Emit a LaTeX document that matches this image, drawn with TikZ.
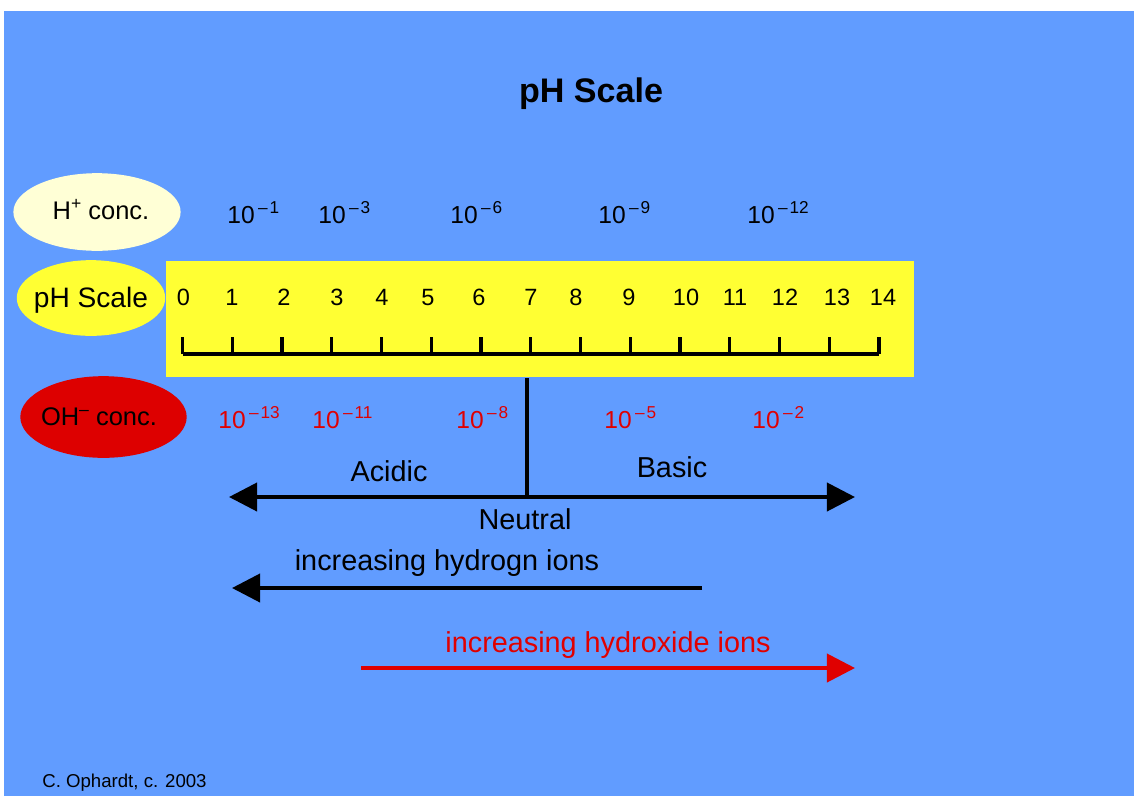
\documentclass[tikz,border=0pt]{standalone}
\usepackage{fontspec}
\setmainfont{Liberation Sans}
\usetikzlibrary{arrows.meta,shapes.geometric,calc}
\definecolor{bgblue}{HTML}{619CFF}
\definecolor{cream}{HTML}{FFFFD6}
\definecolor{ryellow}{HTML}{FFFF33}
\definecolor{rred}{HTML}{DD0000}
\definecolor{tred}{HTML}{E00000}
\newcommand\fs[1]{\fontsize{#1}{#1}\selectfont}
\newcommand\ex[1]{\fs{14}10\kern2pt\raisebox{5.5pt}{\fs{9.8}–\kern1pt#1}}
\tikzset{
  lab/.style={font=\fs{16.4}, inner sep=0pt, anchor=base},
  num/.style={font=\fs{13.4}, inner sep=0pt, anchor=base},
  conc/.style={inner sep=0pt, anchor=base west},
  oval/.style={ellipse, inner sep=0pt},
  ovaltext/.style={inner sep=0pt, anchor=base, font=\fs{14.5}},
  bigarrow/.style={line width=2.2pt, -{Triangle[length=16pt,width=16pt]}},
}
\begin{document}
\begin{tikzpicture}[x=0.02cm,y=-0.02cm]
\useasboundingbox (0,0) rectangle (1134,796);
\fill[bgblue] (4,11) rectangle (1134,796);
% title
\node[font=\bfseries\fs{19.4}, inner sep=0pt, anchor=base] (title) at (591,102) {pH Scale};
% ellipses
\node[oval, fill=cream, minimum width=95.2pt, minimum height=44.2pt] (hconc) at (97,212) {};
\node[ovaltext] (hconct) at (101,219) {H\raisebox{5.5pt}{\fs{10}+}\ conc.};
\node[oval, fill=ryellow, minimum width=84.5pt, minimum height=43.1pt] (phlab) at (91,298) {};
\node[ovaltext, font=\fs{16}] (phlabt) at (91,307) {pH Scale};
\node[oval, fill=rred, minimum width=94.7pt, minimum height=46.5pt] (ohconc) at (103.5,417) {};
\node[ovaltext] (ohconct) at (99,425) {OH\raisebox{5.5pt}{\fs{10}–}\ conc.};
% yellow ruler box
\node[fill=ryellow, inner sep=0pt, minimum width=425.7pt, minimum height=66.3pt] (box) at (540,319) {};
% ruler
\coordinate (r0) at (182.5,354);
\coordinate (r14) at (879,354);
\draw[line width=2.3pt] (r0) -- (r14);
\foreach \i in {0,...,14} {
  \draw[line width=1.8pt] ($(r0)+(\i*49.75,0)$) -- ++(0,-17);
}
\foreach \n/\x in {0/183.5,1/232,2/284,3/337,4/382,5/428,6/479,7/531,8/576,9/629,10/686,11/735,12/785,13/837,14/883} {
  \node[num] (n\n) at (\x,305) {\n};
}
% H+ concentrations
\node[conc] (h1) at (227,223) {\ex{1}};
\node[conc] (h3) at (318,223) {\ex{3}};
\node[conc] (h6) at (450,223) {\ex{6}};
\node[conc] (h9) at (598,223) {\ex{9}};
\node[conc] (h12) at (747,223) {\ex{12}};
% OH- concentrations
\node[conc, text=tred] (o13) at (218,428) {\ex{13}};
\node[conc, text=tred] (o11) at (312,428) {\ex{11}};
\node[conc, text=tred] (o8) at (456,428) {\ex{8}};
\node[conc, text=tred] (o5) at (604,428) {\ex{5}};
\node[conc, text=tred] (o2) at (752,428) {\ex{2}};
% neutral line and double arrow
\coordinate (ntop) at (527,378);
\coordinate (nbot) at (527,497);
\coordinate (aleft) at (229,497);
\coordinate (aright) at (855,497);
\draw[line width=1.8pt] (ntop) -- (nbot);
\draw[line width=2.2pt, {Triangle[length=16pt,width=16pt]}-{Triangle[length=16pt,width=16pt]}] (aleft) -- (aright);
\node[lab] (acid) at (389,481) {Acidic};
\node[lab] (basic) at (672,477) {Basic};
\node[lab] (neutral) at (525,529) {Neutral};
% hydrogen ions arrow
\node[lab] (hyd) at (447,570) {increasing hydrogn ions};
\coordinate (hs) at (702,588);
\coordinate (he) at (232,588);
\draw[bigarrow] (hs) -- (he);
% hydroxide ions arrow
\node[lab, text=tred] (hox) at (608,652) {increasing hydroxide ions};
\coordinate (xs) at (361,668);
\coordinate (xe) at (855,668);
\draw[bigarrow, tred] (xs) -- (xe);
% footer
\node[inner sep=0pt, anchor=base west, font=\fs{10.6}] (foot) at (42,787) {C. Ophardt, c. 2003};
\end{tikzpicture}
\end{document}
